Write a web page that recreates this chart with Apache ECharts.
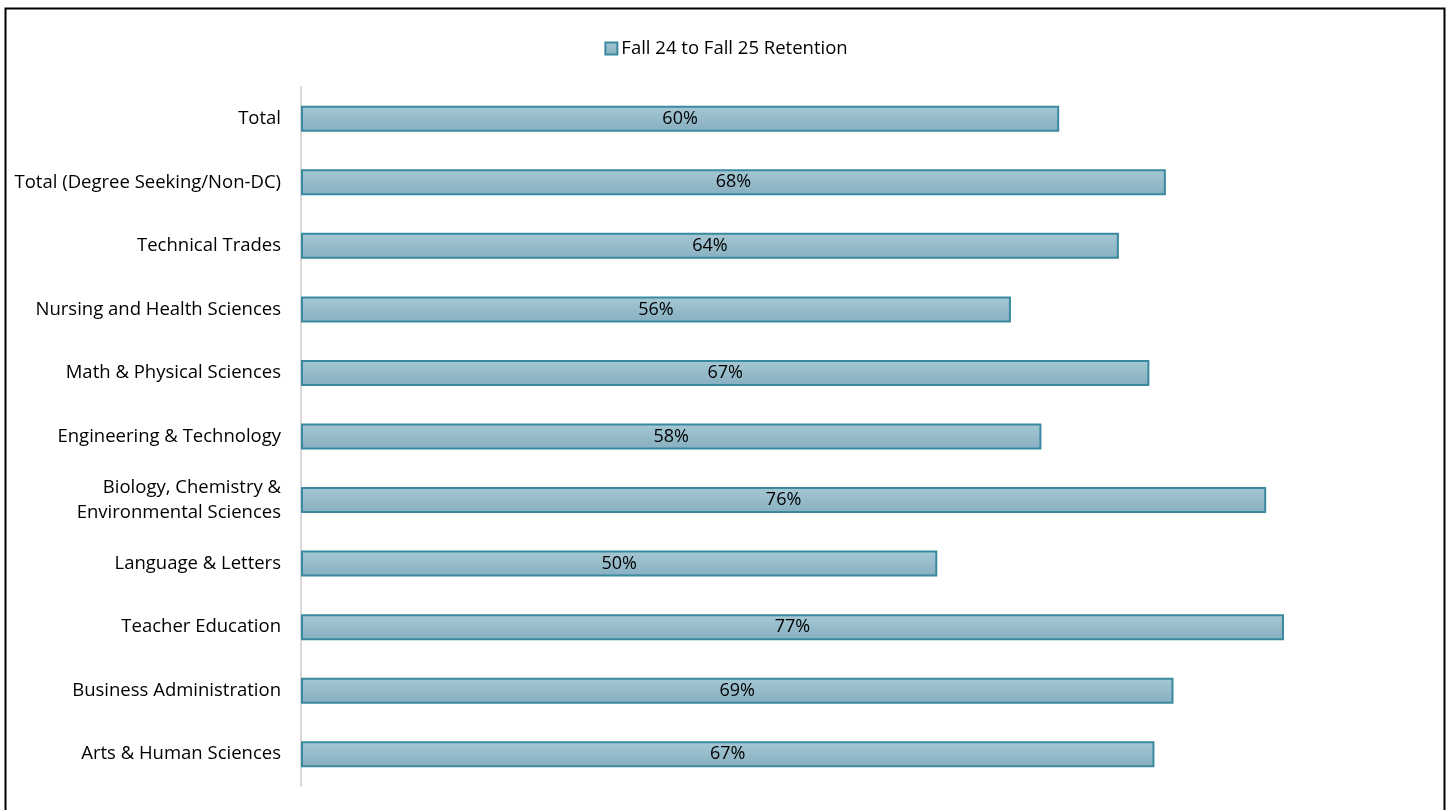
<!DOCTYPE html>
<html>
<head>
<meta charset="utf-8">
<script src="https://cdn.jsdelivr.net/npm/echarts@6/dist/echarts.min.js"></script>
<style>
html,body{margin:0;padding:0;background:#fff;}
#chart{width:1452px;height:810px;}
</style>
</head>
<body>
<div id="chart"></div>
<script>
const categories = [
  'Total',
  'Total (Degree Seeking/Non-DC)',
  'Technical Trades',
  'Nursing and Health Sciences',
  'Math & Physical Sciences',
  'Engineering & Technology',
  'Biology, Chemistry &\nEnvironmental Sciences',
  'Language & Letters',
  'Teacher Education',
  'Business Administration',
  'Arts & Human Sciences'
];
const seriesName = 'Fall 24 to Fall 25 Retention';
const retention = [0.597, 0.681, 0.644, 0.559, 0.668, 0.583, 0.760, 0.501, 0.774, 0.687, 0.672];

const chart = echarts.init(document.getElementById('chart'));
const fontFam = '"Open Sans", Lato, sans-serif';
chart.setOption({
  animation: false,
  textStyle: { fontFamily: fontFam },
  graphic: [{
    type: 'rect',
    shape: { x: 5.5, y: 8.5, width: 1439, height: 820 },
    style: { fill: 'none', stroke: '#000', lineWidth: 2 },
    silent: true,
    z: -1
  }],
  legend: {
    top: 34,
    left: 'center',
    icon: 'rect',
    itemWidth: 12,
    itemHeight: 12,
    itemGap: 4,
    textStyle: { fontSize: 18.5, color: '#000', fontFamily: fontFam, padding: [0, 0, 0, -1] },
    data: [seriesName]
  },
  grid: { left: 301, top: 87, width: 1143, height: 699, containLabel: false },
  xAxis: {
    type: 'value',
    min: 0,
    max: 0.9,
    show: false
  },
  yAxis: {
    type: 'category',
    data: categories,
    inverse: true,
    axisLine: { show: true, lineStyle: { color: '#d9d9d9', width: 2 } },
    axisTick: { show: false },
    axisLabel: { fontSize: 18.5, color: '#000', margin: 20, lineHeight: 25, fontFamily: fontFam, align: 'right' }
  },
  series: [{
    name: seriesName,
    type: 'bar',
    data: retention,
    barWidth: 26,
    itemStyle: {
      color: new echarts.graphic.LinearGradient(0, 0, 0, 1, [
        { offset: 0, color: '#a6c8d4' },
        { offset: 1, color: '#86afc0' }
      ]),
      borderColor: '#3a8a9f',
      borderWidth: 2
    },
    label: {
      show: true,
      position: 'inside',
      color: '#000',
      fontSize: 18,
      fontFamily: fontFam,
      formatter: p => Math.round(p.value * 100) + '%'
    }
  }]
});
</script>
</body>
</html>
